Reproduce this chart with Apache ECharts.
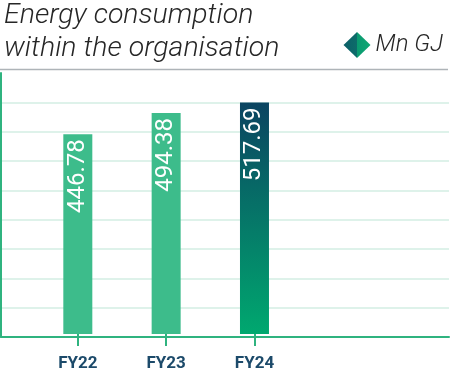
<!DOCTYPE html>
<html>
<head>
<meta charset="utf-8">
<script src="https://cdn.jsdelivr.net/npm/echarts@6/dist/echarts.min.js"></script>
<style>
html,body{margin:0;padding:0;background:#fff;}
#c{width:450px;height:372px;}
</style>
</head>
<body>
<div id="c"></div>
<script>
const titleText = "Energy consumption\nwithin the organisation";
const seriesName = "Mn GJ";
const categories = ["FY22", "FY23", "FY24"];
const values = [446.78, 494.38, 517.69];
const gridStep = 64.85;
const gridSteps = 9;

const chart = echarts.init(document.getElementById('c'), null, {renderer: 'canvas'});
const lightGreen = '#3dbc8b';
const highlight = new echarts.graphic.LinearGradient(0, 0, 0, 1, [
  {offset: 0, color: '#0b4461'},
  {offset: 1, color: '#00a86f'}
]);
const legendColor = new echarts.graphic.LinearGradient(0, 0, 1, 0, [
  {offset: 0, color: '#0c5f68'},
  {offset: 0.5, color: '#0d6c6a'},
  {offset: 0.5, color: '#0a9a70'},
  {offset: 1, color: '#10a774'}
]);
const yMax = gridStep * gridSteps;
const font = 'Roboto, "Noto Sans", sans-serif';

chart.setOption({
  animation: false,
  title: {
    text: titleText,
    left: -1, top: -6,
    textStyle: {fontFamily: font, fontSize: 28.5, fontStyle: 'italic', fontWeight: 300, color: '#262626', lineHeight: 33}
  },
  legend: {
    data: [{name: seriesName, icon: 'diamond', itemStyle: {color: legendColor}}],
    right: 2, top: 27,
    itemWidth: 27, itemHeight: 26, itemGap: 6,
    textStyle: {fontFamily: font, fontSize: 24, fontStyle: 'italic', fontWeight: 300, color: '#262626'}
  },
  graphic: [{
    type: 'line', shape: {x1: 0, y1: 69.5, x2: 448, y2: 69.5},
    style: {stroke: '#aeb4b8', lineWidth: 1.5}, silent: true
  }],
  grid: [
    {left: 1, right: 1, top: 73, bottom: 35},
    {left: 33.65, right: 151.35, top: 73, bottom: 35}
  ],
  xAxis: [
    {gridIndex: 0, type: 'value', min: 0, max: 1,
     axisLine: {show: true, onZero: false, lineStyle: {color: '#2fb37f', width: 2}},
     axisTick: {show: false}, axisLabel: {show: false}, splitLine: {show: false}},
    {gridIndex: 1, type: 'category', data: categories,
     axisLine: {show: false},
     axisTick: {show: true, alignWithLabel: true, length: 12, lineStyle: {color: '#2fb37f', width: 2}},
     axisLabel: {margin: 21, fontFamily: font, fontSize: 17, fontWeight: 'bold', color: '#1c4a6a'}}
  ],
  yAxis: [
    {gridIndex: 0, type: 'value', min: 0, max: yMax, interval: gridStep,
     axisLine: {show: true, lineStyle: {color: '#2fb37f', width: 2}},
     axisTick: {show: false}, axisLabel: {show: false},
     splitLine: {show: true, showMaxLine: false, showMinLine: false, lineStyle: {color: '#d3eee3', width: 1.5}}},
    {gridIndex: 1, type: 'value', min: 0, max: yMax, interval: gridStep, show: false, splitLine: {show: false}}
  ],
  series: [{
    name: seriesName,
    type: 'bar',
    xAxisIndex: 1, yAxisIndex: 1,
    barWidth: 29,
    itemStyle: {color: lightGreen},
    label: {
      show: true, position: 'insideTop', rotate: 90, align: 'right', verticalAlign: 'middle',
      distance: 5, fontFamily: font, fontSize: 24, color: '#ffffff',
      formatter: p => p.value.toFixed(2)
    },
    data: values.map((v, i) => i === values.length - 1 ? {value: v, itemStyle: {color: highlight}} : v)
  }]
});
</script>
</body>
</html>
